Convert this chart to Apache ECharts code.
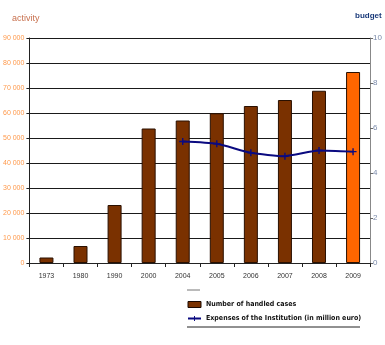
<!DOCTYPE html>
<html>
<head>
<meta charset="utf-8">
<script src="https://cdn.jsdelivr.net/npm/echarts@6/dist/echarts.min.js"></script>
<style>
  html, body { margin: 0; padding: 0; background: #fff; }
  #chart { width: 385px; height: 345px; }
</style>
</head>
<body>
<div id="chart"></div>
<script>
// data
const years = ['1973', '1980', '1990', '2000', '2004', '2005', '2006', '2007', '2008', '2009'];
const handledCases = [2200, 6800, 23200, 53800, 57000, 59900, 62800, 65200, 68900, 76400];
const expenses = [null, null, null, null, 5.4, 5.3, 4.9, 4.75, 5.0, 4.95];
const leftTicks = [0, 10000, 20000, 30000, 40000, 50000, 60000, 70000, 80000, 90000];

const brown = '#7a3100';
const orange = '#ff6600';
const navy = '#0a0a80';
const plusPath = 'path://M4,0 L6,0 L6,4 L10,4 L10,6 L6,6 L6,10 L4,10 L4,6 L0,6 L0,4 L4,4 Z';

const chart = echarts.init(document.getElementById('chart'));

const option = {
  animation: false,
  textStyle: { fontFamily: 'Liberation Sans Narrow, Liberation Sans, sans-serif' },
  grid: { left: 28, right: 12, top: 38, bottom: 82 },
  title: [
    { text: 'activity', left: 7, top: 9,
      textStyle: { fontSize: 9, fontWeight: 'normal', color: '#c8714f' } },
    { text: 'budget', left: 350, top: 7,
      textStyle: { fontSize: 8, fontWeight: 'bold', color: '#1a3a7a' } }
  ],
  legend: {
    orient: 'vertical',
    left: 182,
    top: 296,
    itemGap: 7,
    itemWidth: 13,
    itemHeight: 6,
    textStyle: { fontSize: 7, color: '#111', fontWeight: 'bold',
      fontFamily: 'DejaVu Sans Condensed, Liberation Sans Narrow, sans-serif' },
    data: [
      { name: 'Number of handled cases', icon: 'rect',
        itemStyle: { color: brown, borderColor: '#1a0800', borderWidth: 1 } },
      { name: 'Expenses of the Institution (in million euro)' }
    ]
  },
  graphic: [
    { type: 'line', shape: { x1: 187, y1: 290, x2: 200, y2: 290 },
      style: { stroke: '#777', lineWidth: 1 } },
    { type: 'line', shape: { x1: 187, y1: 327, x2: 360, y2: 327 },
      style: { stroke: '#222', lineWidth: 1 } }
  ],
  xAxis: {
    type: 'category',
    data: years,
    axisLine: { lineStyle: { color: '#222', width: 1 } },
    axisTick: { show: true, length: 4, lineStyle: { color: '#222' } },
    axisLabel: { fontSize: 7, color: '#333', margin: 10 }
  },
  yAxis: [
    {
      type: 'value',
      min: leftTicks[0],
      max: leftTicks[leftTicks.length - 1],
      interval: 10000,
      axisLine: { show: true, lineStyle: { color: '#222' } },
      axisTick: { show: true, length: 3, lineStyle: { color: '#222' } },
      axisLabel: {
        fontSize: 7, color: '#ff9a4d', margin: 5,
        formatter: v => v === 0 ? '0' : (v / 1000) + ' 000'
      },
      splitLine: { lineStyle: { color: '#1a1a1a', width: 1 } }
    },
    {
      type: 'value',
      min: 0,
      max: 10,
      interval: 2,
      position: 'right',
      axisLine: { show: true, lineStyle: { color: '#888' } },
      axisTick: { show: true, length: 3, lineStyle: { color: '#666' } },
      axisLabel: { fontSize: 8, color: '#7a8aaa', margin: 3 },
      splitLine: { show: false }
    }
  ],
  series: [
    {
      name: 'Number of handled cases',
      type: 'bar',
      yAxisIndex: 0,
      barWidth: 14,
      data: handledCases.map((v, i) => ({
        value: v,
        itemStyle: { color: i === handledCases.length - 1 ? orange : brown }
      })),
      itemStyle: { borderColor: '#2a1000', borderWidth: 1 }
    },
    {
      name: 'Expenses of the Institution (in million euro)',
      type: 'line',
      yAxisIndex: 1,
      data: expenses,
      smooth: 0.2,
      symbol: plusPath,
      symbolSize: 7,
      showSymbol: true,
      itemStyle: { color: navy },
      lineStyle: { color: navy, width: 2 }
    }
  ]
};

chart.setOption(option);
</script>
</body>
</html>
